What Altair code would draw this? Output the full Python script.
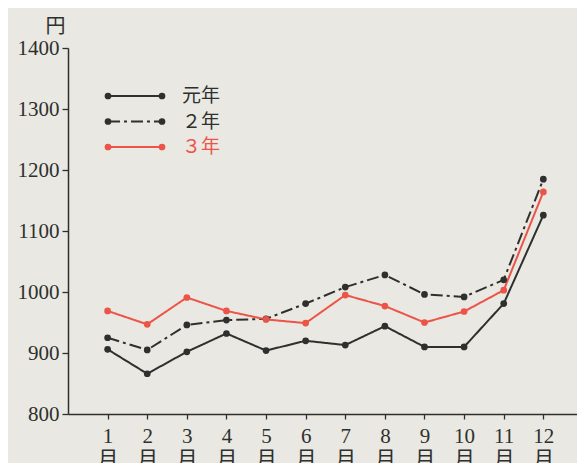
import altair as alt
import pandas as pd

months = list(range(1, 13))
series = ["元年", "２年", "３年"]
v_gannen = [906, 866, 902, 932, 904, 920, 913, 944, 910, 910, 981, 1126]
v_2nen = [925, 905, 946, 954, 956, 981, 1008, 1028, 996, 992, 1020, 1185]
v_3nen = [969, 947, 991, 969, 955, 949, 995, 977, 950, 968, 1003, 1164]
y_ticks = [800, 900, 1000, 1100, 1200, 1300, 1400]

rows = []
for name, vals in zip(series, [v_gannen, v_2nen, v_3nen]):
    for m, v in zip(months, vals):
        rows.append({"series": name, "month": m, "value": v})
df = pd.DataFrame(rows)
leg = pd.DataFrame({"series": series})

INK = "#2e302e"
RED = "#ec5448"
SERIF = "Liberation Serif"
JP = "Noto Sans CJK JP"

color_scale = alt.Scale(domain=series, range=[INK, INK, RED])
dash_scale = alt.Scale(domain=series, range=[[1, 0], [12, 4, 3, 4], [1, 0]])

x_enc = alt.X(
    "month:Q",
    scale=alt.Scale(domain=[0, 12.85], nice=False, zero=False),
    axis=alt.Axis(
        values=months,
        labelExpr="[format(datum.value, 'd'), '月']",
        labelFont=f"{SERIF}, {JP}",
        labelFontSize=21,
        labelColor=INK,
        labelLineHeight=23,
        labelPadding=6,
        labelBaseline="top",
        tickSize=5,
        tickColor=INK,
        tickWidth=1.3,
        domainColor=INK,
        domainWidth=1.5,
        grid=False,
        title=None,
    ),
)
y_enc = alt.Y(
    "value:Q",
    scale=alt.Scale(domain=[800, 1400], nice=False, zero=False),
    axis=alt.Axis(
        values=y_ticks,
        format="d",
        labelFont=SERIF,
        labelFontSize=21,
        labelColor=INK,
        labelPadding=3,
        tickSize=6,
        tickColor=INK,
        tickWidth=1.3,
        domainColor=INK,
        domainWidth=1.5,
        grid=False,
        title="円",
        titleAngle=0,
        titleX=-13,
        titleY=-12,
        titleAlign="center",
        titleBaseline="bottom",
        titleFont=JP,
        titleFontSize=20,
        titleFontWeight="normal",
        titleColor=INK,
    ),
)
color_enc = alt.Color("series:N", scale=color_scale, legend=None)
dash_enc = alt.StrokeDash("series:N", scale=dash_scale, legend=None)

base = alt.Chart(df)
lines = base.mark_line(strokeWidth=2).encode(
    x=x_enc, y=y_enc, color=color_enc, strokeDash=dash_enc
)
points = base.mark_circle(size=45, opacity=1).encode(
    x="month:Q", y="value:Q", color=color_enc
)
main = alt.layer(lines, points)

leg_y = alt.Y(
    "series:N",
    scale=alt.Scale(type="point", domain=series, range=[48, 99], padding=0),
    axis=None,
)
lbase = alt.Chart(leg)
leg_rule = lbase.mark_rule(strokeWidth=2).encode(
    x=alt.value(40), x2=alt.value(94), y=leg_y, color=color_enc, strokeDash=dash_enc
)
leg_p1 = lbase.mark_circle(size=45, opacity=1).encode(
    x=alt.value(40), y=leg_y, color=color_enc
)
leg_p2 = lbase.mark_circle(size=45, opacity=1).encode(
    x=alt.value(94), y=leg_y, color=color_enc
)
leg_txt = lbase.mark_text(
    align="left", baseline="middle", font=JP, fontSize=19
).encode(x=alt.value(114), y=leg_y, text="series:N", color=color_enc)
legend = alt.layer(leg_rule, leg_p1, leg_p2, leg_txt)

chart = (
    alt.layer(main, legend)
    .resolve_scale(y="independent")
    .properties(
        width=509,
        height=366,
        autosize=alt.AutoSizeParams(type="none"),
        padding={"left": 60, "top": 40, "right": 0, "bottom": 49},
        background="#e9e8e3",
    )
    .configure_view(stroke=None)
)

chart.save("out.html", embed_options={"renderer": "svg", "actions": False})
